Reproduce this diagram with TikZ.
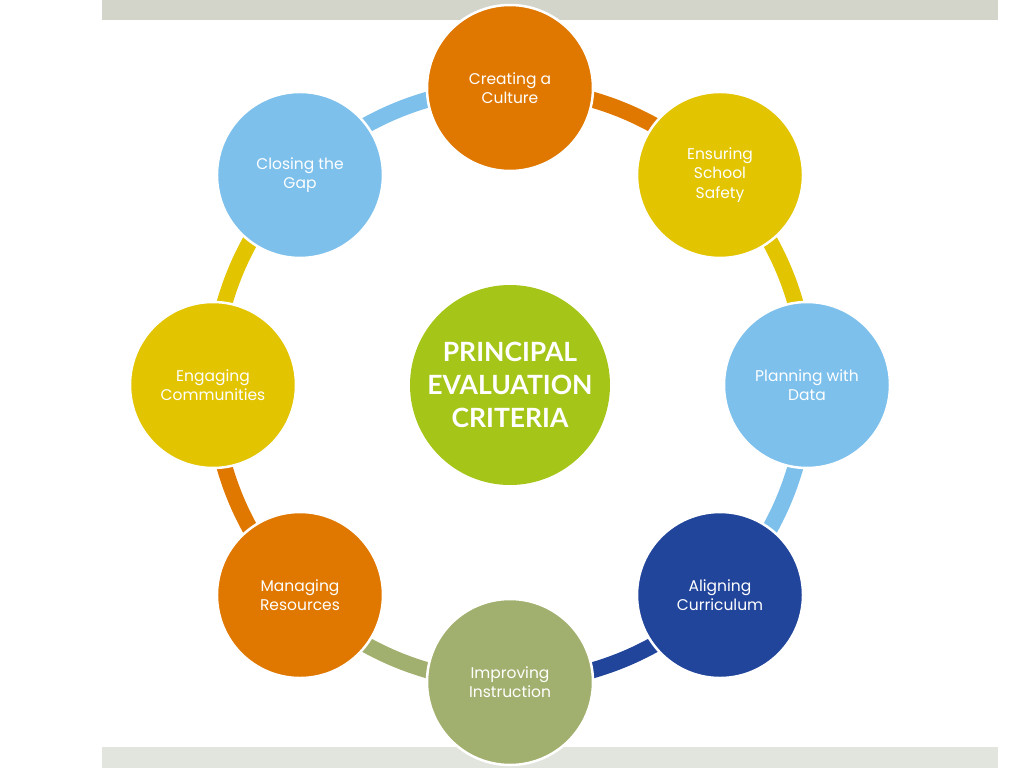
\documentclass[tikz,border=0pt]{standalone}
\usepackage{fontspec}
\setmainfont{Poppins}
\newfontfamily\titlefont{Lato}
\usetikzlibrary{backgrounds}

\definecolor{cultureorange}{HTML}{E07800}
\definecolor{safetyyellow}{HTML}{E2C400}
\definecolor{datablue}{HTML}{7DC0EC}
\definecolor{curriculumblue}{HTML}{22459C}
\definecolor{instructionolive}{HTML}{A2B06F}
\definecolor{criteriagreen}{HTML}{A5C519}
\definecolor{barupper}{HTML}{D3D5CB}
\definecolor{barlower}{HTML}{E2E4DE}

\tikzset{
  criterion/.style={circle,draw=white,line width=2.5pt,minimum size=166pt,inner sep=0pt,
    align=center,text=white,font=\fontsize{15.5}{19.5}\selectfont},
  ring/.style={line width=16pt}
}

\begin{document}
\begin{tikzpicture}
  \useasboundingbox (-510pt,-383pt) rectangle (514pt,385pt);
  \fill[barupper] (-408pt,385pt) rectangle (488pt,365pt);
  \fill[barlower] (-408pt,-362pt) rectangle (488pt,-383pt);

  \node[circle,fill=criteriagreen,minimum size=200pt,inner sep=0pt,align=center,text=white,
    font=\titlefont\bfseries\fontsize{26.5}{33}\selectfont] (criteria) at (0,0)
    {PRINCIPAL\\EVALUATION\\CRITERIA};

  \node[criterion,fill=cultureorange] (culture) at (90:297pt) {Creating a\\Culture};
  \node[criterion,fill=safetyyellow] (safety) at (45:297pt) {Ensuring\\School\\Safety};
  \node[criterion,fill=datablue] (data) at (0:297pt) {Planning with\\Data};
  \node[criterion,fill=curriculumblue] (curriculum) at (-45:297pt) {Aligning\\Curriculum};
  \node[criterion,fill=instructionolive] (instruction) at (-90:297pt) {Improving\\Instruction};
  \node[criterion,fill=cultureorange] (resources) at (-135:297pt) {Managing\\Resources};
  \node[criterion,fill=safetyyellow] (communities) at (180:297pt) {Engaging\\Communities};
  \node[criterion,fill=datablue] (gap) at (135:297pt) {Closing the\\Gap};

  \begin{pgfonlayer}{background}
   \draw[ring,cultureorange] (culture.center) arc (90:45:297pt);
   \draw[ring,safetyyellow] (safety.center) arc (45:0:297pt);
   \draw[ring,datablue] (data.center) arc (0:-45:297pt);
   \draw[ring,curriculumblue] (curriculum.center) arc (-45:-90:297pt);
   \draw[ring,instructionolive] (instruction.center) arc (-90:-135:297pt);
   \draw[ring,cultureorange] (resources.center) arc (-135:-180:297pt);
   \draw[ring,safetyyellow] (communities.center) arc (180:135:297pt);
   \draw[ring,datablue] (gap.center) arc (135:90:297pt);
  \end{pgfonlayer}
\end{tikzpicture}
\end{document}
